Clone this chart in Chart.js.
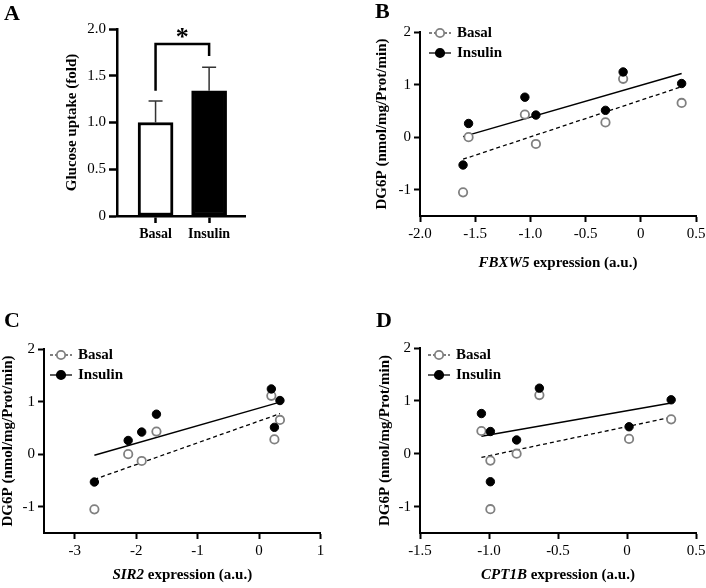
<!DOCTYPE html>
<html>
<head>
<meta charset="utf-8">
<script src="https://cdn.jsdelivr.net/npm/chart.js@4.4.0/dist/chart.umd.min.js"></script>
<style>
  body { margin: 0; background: #fff; width: 706px; height: 588px; position: relative; overflow: hidden; }
  .panel { position: absolute; }
  .letter { position: absolute; font: bold 22px "Liberation Serif", "Times New Roman", serif; line-height: 1; color: #000; }
</style>
</head>
<body>
<div class="panel" style="left:0;top:0"><canvas id="chartA" width="353" height="300"></canvas></div>
<div class="panel" style="left:353px;top:0"><canvas id="chartB" width="353" height="300"></canvas></div>
<div class="panel" style="left:0;top:300px"><canvas id="chartC" width="353" height="288"></canvas></div>
<div class="panel" style="left:353px;top:300px"><canvas id="chartD" width="353" height="288"></canvas></div>
<div class="letter" style="left:4px;top:2px">A</div>
<div class="letter" style="left:375px;top:0">B</div>
<div class="letter" style="left:4px;top:309px">C</div>
<div class="letter" style="left:376px;top:309px">D</div>

<script>
// panel A: glucose uptake
const GROUPS = ['Basal', 'Insulin'];
const UPTAKE_MEAN = [1.00, 1.34];
const UPTAKE_SD = [0.23, 0.25];
const UPTAKE_TICKS = [0, 0.5, 1, 1.5, 2];
const UPTAKE_LABELS = ['0', '0.5', '1.0', '1.5', '2.0'];
const SIG_BRACKET = [[0, 1.34], [0, 1.84], [1, 1.84], [1, 1.71]];

// DG6P per subject, same subjects in B, C, D
const DG6P_BASAL = [-1.05, 0.00, 0.43, -0.13, 0.28, 1.11, 0.65];
const DG6P_INSULIN = [-0.53, 0.26, 0.76, 0.42, 0.51, 1.24, 1.02];
const DG6P_TICKS = [-1, 0, 1, 2];
const DG6P_LABELS = ['-1', '0', '1', '2'];

// panel B
const FBXW5 = [-1.61, -1.56, -1.05, -0.95, -0.32, -0.16, 0.37];
const FBXW5_TICKS = [-2, -1.5, -1, -0.5, 0, 0.5];
const FBXW5_LABELS = ['-2.0', '-1.5', '-1.0', '-0.5', '0', '0.5'];
const FBXW5_FIT_BASAL = [[-1.61, -0.42], [0.37, 0.96]];
const FBXW5_FIT_INSULIN = [[-1.61, 0.01], [0.37, 1.21]];

// panel C
const SIR2 = [-2.68, -2.13, -1.67, -1.91, 0.25, 0.20, 0.34];
const SIR2_TICKS = [-3, -2, -1, 0, 1];
const SIR2_LABELS = ['-3', '-2', '-1', '0', '1'];
const SIR2_FIT_BASAL = [[-2.68, -0.48], [0.34, 0.77]];
const SIR2_FIT_INSULIN = [[-2.68, -0.02], [0.34, 0.99]];

// panel D
const CPT1B = [-0.99, -0.80, -1.055, -0.99, 0.015, -0.635, 0.32];
const CPT1B_TICKS = [-1.5, -1, -0.5, 0, 0.5];
const CPT1B_LABELS = ['-1.5', '-1.0', '-0.5', '0', '0.5'];
const CPT1B_FIT_BASAL = [[-1.055, -0.07], [0.32, 0.69]];
const CPT1B_FIT_INSULIN = [[-1.055, 0.33], [0.32, 0.96]];

const FONT = '"Liberation Serif", "Times New Roman", serif';
Chart.defaults.font.family = FONT;
Chart.defaults.font.size = 15;
Chart.defaults.color = '#000';

const pts = (xs, ys) => xs.map((x, i) => ({ x, y: ys[i] }));
const pairs = arr => arr.map(([x, y]) => ({ x, y }));

function axis(min, max, values, labels, size, isY, opts = {}) {
  return {
    type: 'linear', min, max, offset: false,
    afterBuildTicks: s => { s.ticks = values.map(v => ({ value: v })); },
    afterFit: s => {
      if (isY) { s.width = size; s.paddingTop = 0; s.paddingBottom = 0; }
      else { s.height = size; s.paddingLeft = 0; s.paddingRight = 0; }
    },
    ticks: { autoSkip: false, maxRotation: 0, padding: 3, font: opts.tickFont, callback: (v, i) => labels[i] },
    grid: { offset: false, drawOnChartArea: false, drawTicks: true, tickLength: opts.tickLength || 7, tickColor: '#000', tickWidth: opts.lw || 2 },
    border: { display: true, color: '#000', width: opts.lw || 2 },
    title: opts.title
      ? { display: true, text: opts.title, font: { weight: 'bold', size: 15, lineHeight: 1 }, padding: 0 }
      : { display: false }
  };
}

// bar chart extras: error bars, bracket and star
const uptakeExtras = {
  id: 'uptakeExtras',
  afterDatasetsDraw(chart) {
    const { ctx, scales: { x, y } } = chart;
    ctx.save();
    ctx.strokeStyle = '#333';
    ctx.lineWidth = 1.5;
    UPTAKE_MEAN.forEach((m, i) => {
      const px = x.getPixelForValue(i);
      const top = y.getPixelForValue(m + UPTAKE_SD[i]);
      ctx.beginPath();
      ctx.moveTo(px, y.getPixelForValue(m));
      ctx.lineTo(px, top);
      ctx.moveTo(px - 7, top);
      ctx.lineTo(px + 7, top);
      ctx.stroke();
    });
    ctx.strokeStyle = '#000';
    ctx.lineWidth = 2.5;
    ctx.beginPath();
    SIG_BRACKET.forEach(([bx, by], i) => {
      const px = x.getPixelForValue(bx), py = y.getPixelForValue(by);
      i ? ctx.lineTo(px, py) : ctx.moveTo(px, py);
    });
    ctx.stroke();
    ctx.fillStyle = '#000';
    ctx.font = 'bold 26px ' + FONT;
    ctx.textAlign = 'center';
    ctx.textBaseline = 'alphabetic';
    ctx.fillText('*', x.getPixelForValue(0.5), y.getPixelForValue(SIG_BRACKET[1][1]) + 1);
    ctx.restore();
  }
};

new Chart(document.getElementById('chartA'), {
  type: 'bar',
  data: {
    datasets: [{
      data: pts([0, 1], UPTAKE_MEAN),
      backgroundColor: ['#fff', '#000'],
      borderColor: '#000',
      borderWidth: 3,
      borderSkipped: false,
      barThickness: 35
    }]
  },
  options: {
    responsive: false, animation: false, events: [], devicePixelRatio: 1,
    layout: { padding: { left: 65, right: 108, top: 29, bottom: 44 } },
    plugins: { legend: { display: false }, tooltip: { enabled: false } },
    scales: {
      x: axis(-0.72, 1.67, [0, 1], GROUPS, 40, false, { lw: 2.5, tickFont: { weight: 'bold', size: 14 } }),
      y: axis(0, 2, UPTAKE_TICKS, UPTAKE_LABELS, 52, true, { lw: 2.5, tickLength: 8, title: 'Glucose uptake (fold)' })
    }
  },
  plugins: [uptakeExtras]
});

// x title (gene in italics) and legend for the scatter panels
function panelText(gene, titleGap, leg) {
  return {
    id: 'panelText',
    afterDraw(chart) {
      const { ctx, chartArea: a } = chart;
      ctx.save();
      ctx.fillStyle = '#000';
      ctx.textBaseline = 'middle';
      const parts = [[gene, 'italic bold 15px ' + FONT], [' expression (a.u.)', 'bold 15px ' + FONT]];
      let total = 0;
      const widths = parts.map(([t, f]) => { ctx.font = f; const w = ctx.measureText(t).width; total += w; return w; });
      let tx = (a.left + a.right) / 2 - total / 2;
      parts.forEach(([t, f], i) => { ctx.font = f; ctx.fillText(t, tx, a.bottom + titleGap); tx += widths[i]; });

      const items = [
        { label: GROUPS[0], dash: [3, 2], stroke: '#555', fill: '#fff', ring: '#808080' },
        { label: GROUPS[1], dash: [], stroke: '#000', fill: '#000', ring: '#000' }
      ];
      items.forEach((it, i) => {
        const x0 = a.left + leg.dx, yy = a.top + leg.dy + i * 20;
        ctx.strokeStyle = it.stroke;
        ctx.lineWidth = 1.3;
        ctx.setLineDash(it.dash);
        ctx.beginPath(); ctx.moveTo(x0, yy); ctx.lineTo(x0 + 22, yy); ctx.stroke();
        ctx.setLineDash([]);
        ctx.beginPath(); ctx.arc(x0 + 11, yy, 4.2, 0, Math.PI * 2);
        ctx.fillStyle = it.fill; ctx.fill();
        ctx.strokeStyle = it.ring; ctx.lineWidth = 1.8; ctx.stroke();
        ctx.fillStyle = '#000';
        ctx.font = 'bold 15px ' + FONT;
        ctx.fillText(it.label, x0 + 28, yy);
      });
      ctx.restore();
    }
  };
}

function scatterPanel(id, xs, fitBasal, fitInsulin, xAxis, pad, yWidth, xHeight, gene, titleGap, leg) {
  new Chart(document.getElementById(id), {
    type: 'scatter',
    data: {
      datasets: [
        { data: pts(xs, DG6P_INSULIN), pointRadius: 4.2, pointBackgroundColor: '#000', pointBorderColor: '#000', pointBorderWidth: 1, order: 0 },
        { data: pts(xs, DG6P_BASAL), pointRadius: 4.2, pointBackgroundColor: '#fff', pointBorderColor: '#808080', pointBorderWidth: 1.8, order: 1 },
        { data: pairs(fitInsulin), showLine: true, borderColor: '#000', borderWidth: 1.5, pointRadius: 0, order: 2 },
        { data: pairs(fitBasal), showLine: true, borderColor: '#000', borderWidth: 1.3, borderDash: [4, 3], pointRadius: 0, order: 3 }
      ]
    },
    options: {
      responsive: false, animation: false, events: [], devicePixelRatio: 1,
      layout: { padding: pad },
      plugins: { legend: { display: false }, tooltip: { enabled: false } },
      scales: {
        x: axis(xAxis[0], xAxis[1], xAxis[2], xAxis[3], xHeight, false, { tickLength: 6 }),
        y: axis(-1.5, 2, DG6P_TICKS, DG6P_LABELS, yWidth, true, { tickLength: 6, title: 'DG6P (nmol/mg/Prot/min)' })
      }
    },
    plugins: [panelText(gene, titleGap, leg)]
  });
}

scatterPanel('chartB', FBXW5, FBXW5_FIT_BASAL, FBXW5_FIT_INSULIN,
  [-2, 0.5, FBXW5_TICKS, FBXW5_LABELS],
  { left: 21.5, right: 10, top: 32, bottom: 54 }, 45.5, 30, 'FBXW5', 47, { dx: 9, dy: 1 });

scatterPanel('chartC', SIR2, SIR2_FIT_BASAL, SIR2_FIT_INSULIN,
  [-3.5, 1, SIR2_TICKS, SIR2_LABELS],
  { left: 0.5, right: 32.5, top: 49, bottom: 25 }, 43.5, 30, 'SIR2', 42, { dx: 6, dy: 6 });

scatterPanel('chartD', CPT1B, CPT1B_FIT_BASAL, CPT1B_FIT_INSULIN,
  [-1.5, 0.5, CPT1B_TICKS, CPT1B_LABELS],
  { left: 24.5, right: 10, top: 48, bottom: 25 }, 42.5, 30, 'CPT1B', 42, { dx: 8, dy: 7 });
</script>
</body>
</html>
